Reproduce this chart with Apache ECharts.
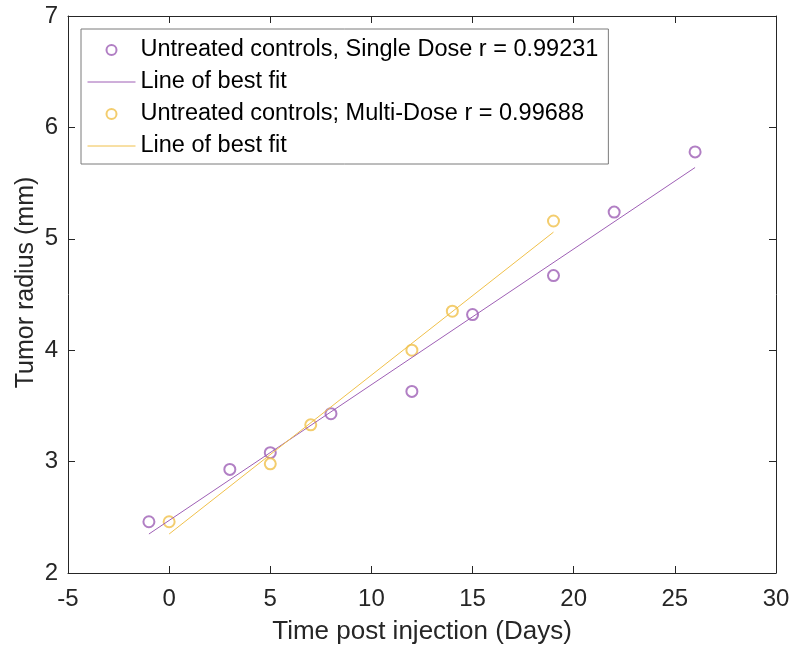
<!DOCTYPE html>
<html><head><meta charset="utf-8">
<script src="https://cdn.jsdelivr.net/npm/echarts@6/dist/echarts.min.js"></script>
<style>html,body{margin:0;padding:0;background:#fff}#c{width:794px;height:653px}</style>
</head><body><div id="c"></div>
<script>
const singleDays = [-1, 3, 5, 8, 12, 15, 19, 22, 26];
const singleRadius = [2.46, 2.93, 3.08, 3.43, 3.63, 4.32, 4.67, 5.24, 5.78];
const singleFitX = [-1, 26];
const singleFitY = [2.35, 5.64];
const multiDays = [0, 5, 7, 12, 14, 19];
const multiRadius = [2.46, 2.98, 3.33, 4.00, 4.35, 5.16];
const multiFitX = [0, 19];
const multiFitY = [2.35, 5.06];
const xTicks = [-5, 30, 5];
const yTicks = [2, 7, 1];
const names = ['Untreated controls, Single Dose r = 0.99231', 'Line of best fit', 'Untreated controls; Multi-Dose r = 0.99688', 'Line of best fit '];

const purple = '#9E5FB5', orange = '#F0C04A', axisCol = '#262626';
const zip = (a, b) => a.map((v, i) => [v, b[i]]);
const font = 'Liberation Sans, Arial, Helvetica, sans-serif';
const chart = echarts.init(document.getElementById('c'));
const baseAxis = {
  axisLine: {show: true, onZero: false, lineStyle: {color: axisCol, width: 1}},
  axisTick: {show: true, inside: true, length: 7, lineStyle: {color: axisCol}},
  splitLine: {show: false}
};
chart.setOption({
  animation: false,
  textStyle: {fontFamily: font},
  grid: {left: 68, right: 18, top: 16, bottom: 80},
  legend: {
    orient: 'vertical', left: 81, top: 29,
    backgroundColor: '#fff', borderColor: '#7a7a7a', borderWidth: 1,
    padding: [9, 10, 6, 6],
    itemWidth: 48, itemHeight: 10, itemGap: 8,
    textStyle: {fontSize: 23.5, color: '#000', lineHeight: 24, fontFamily: font},
    data: [
      {name: names[0], icon: 'emptyCircle'},
      {name: names[1], itemStyle: {opacity: 0}, lineStyle: {width: 1}},
      {name: names[2], icon: 'emptyCircle'},
      {name: names[3], itemStyle: {opacity: 0}, lineStyle: {width: 1}}
    ]
  },
  xAxis: [
    Object.assign({}, baseAxis, {type: 'value', min: xTicks[0], max: xTicks[1], interval: xTicks[2], position: 'bottom',
      axisLabel: {fontSize: 24, color: axisCol, margin: 14, fontFamily: font},
      name: 'Time post injection (Days)', nameLocation: 'middle', nameGap: 46, nameMoveOverlap: false,
      nameTextStyle: {fontSize: 26, color: axisCol, fontFamily: font}}),
    Object.assign({}, baseAxis, {type: 'value', min: xTicks[0], max: xTicks[1], interval: xTicks[2], position: 'top',
      axisLabel: {show: false}})
  ],
  yAxis: [
    Object.assign({}, baseAxis, {type: 'value', min: yTicks[0], max: yTicks[1], interval: yTicks[2], position: 'left',
      axisLabel: {fontSize: 24, color: axisCol, margin: 10, fontFamily: font},
      name: 'Tumor radius (mm)', nameLocation: 'middle', nameGap: 29, nameMoveOverlap: false,
      nameTextStyle: {fontSize: 25, color: axisCol, fontFamily: font, padding: [0, 0, 0, 24]}}),
    Object.assign({}, baseAxis, {type: 'value', min: yTicks[0], max: yTicks[1], interval: yTicks[2], position: 'right',
      axisLabel: {show: false}})
  ],
  series: [
    {name: names[0], type: 'scatter', symbol: 'emptyCircle', symbolSize: 11,
     itemStyle: {color: purple, borderColor: purple, borderWidth: 1.2}, data: zip(singleDays, singleRadius)},
    {name: names[1], type: 'line', symbol: 'none', lineStyle: {color: purple, width: 1}, itemStyle: {color: purple},
     data: zip(singleFitX, singleFitY)},
    {name: names[2], type: 'scatter', symbol: 'emptyCircle', symbolSize: 11,
     itemStyle: {color: orange, borderColor: orange, borderWidth: 1.2}, data: zip(multiDays, multiRadius)},
    {name: names[3], type: 'line', symbol: 'none', lineStyle: {color: orange, width: 1}, itemStyle: {color: orange},
     data: zip(multiFitX, multiFitY)}
  ]
});
</script></body></html>
